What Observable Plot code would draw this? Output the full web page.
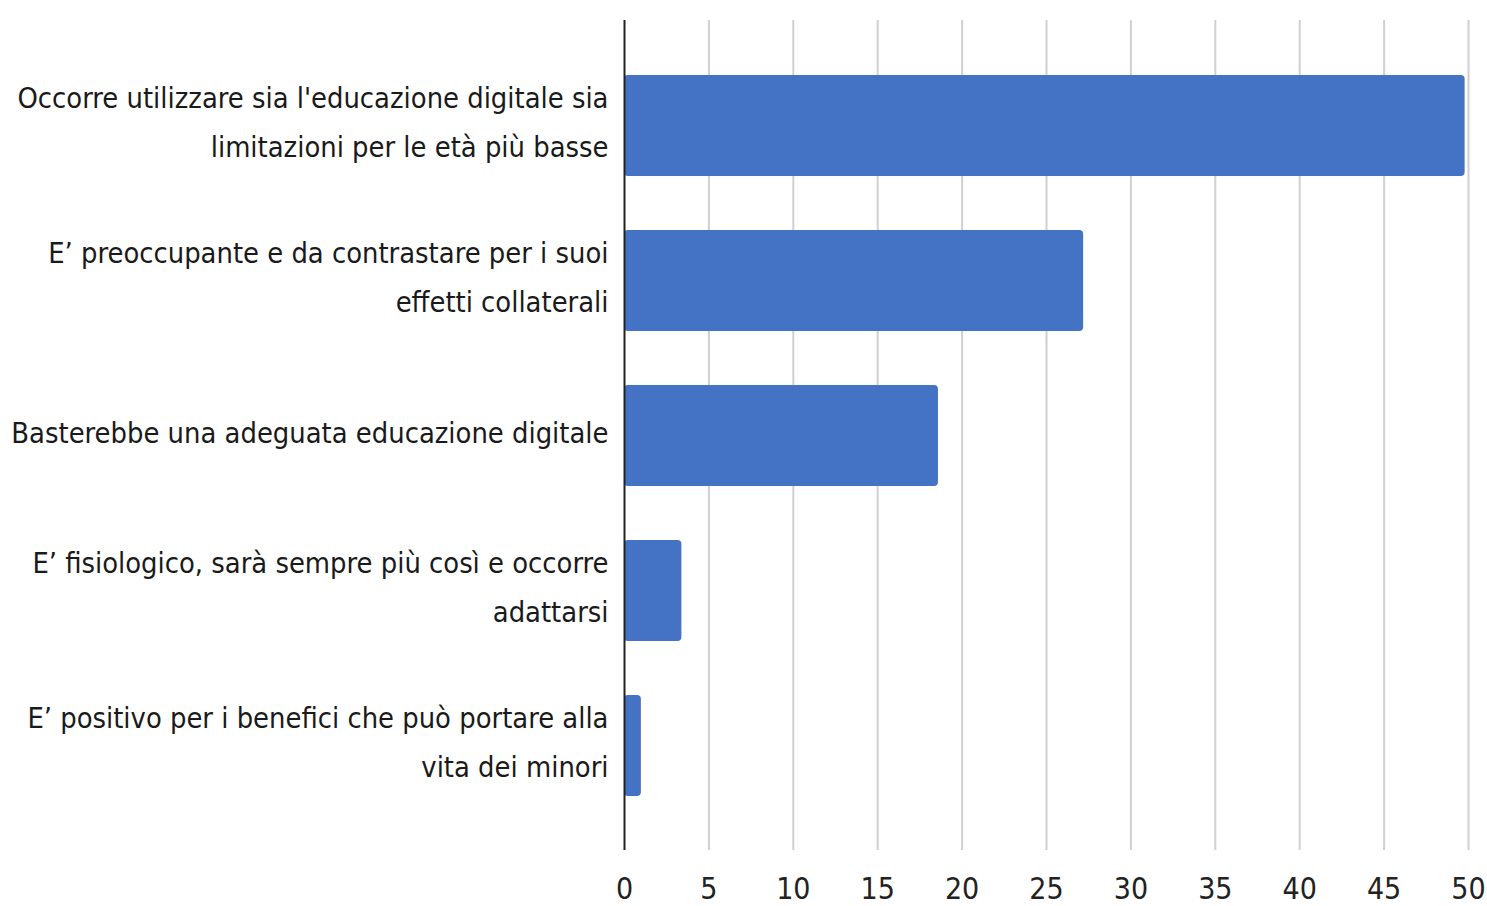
<!DOCTYPE html>
<html>
<head>
<meta charset="utf-8">
<script src="https://cdn.jsdelivr.net/npm/d3@7"></script>
<script src="https://cdn.jsdelivr.net/npm/@observablehq/plot@0.6"></script>
<style>
  html, body { margin: 0; padding: 0; background: #fff; }
  #chart svg { display: block; }
</style>
</head>
<body>
<div id="chart"></div>
<script>
const categories = [
  "Occorre utilizzare sia l'educazione digitale sia\nlimitazioni per le età più basse",
  "E\u2019 preoccupante e da contrastare per i suoi\neffetti collaterali",
  "Basterebbe una adeguata educazione digitale",
  "E\u2019 fisiologico, sarà sempre più così e occorre\nadattarsi",
  "E\u2019 positivo per i benefici che può portare alla\nvita dei minori"
];
const values = [49.8, 27.2, 18.6, 3.4, 1.0];
const xTicks = [0, 5, 10, 15, 20, 25, 30, 35, 40, 45, 50];

const data = categories.map((c, i) => ({category: c, value: values[i]}));
const font = "'Liberation Sans Narrow', 'DejaVu Sans Condensed', sans-serif";

const chart = Plot.plot({
  width: 1487,
  height: 906,
  marginLeft: 624,
  marginRight: 19,
  marginTop: 20,
  marginBottom: 56,
  style: {fontFamily: font, background: "#fff", color: "#222"},
  x: {domain: [0, 50], ticks: xTicks, label: null},
  y: {domain: categories, padding: 0.35, axis: null},
  marks: [
    Plot.gridX(xTicks.filter(d => d > 0), {stroke: "#d0d0d0", strokeOpacity: 1, strokeWidth: 2}),
    Plot.axisX(xTicks, {tickSize: 0, tickPadding: 27, fontSize: 30, fill: "#222", label: null, tickFormat: d => String(d)}),
    Plot.barX(data, {x: "value", y: "category", fill: "#4472c4", rx: 4}),
    Plot.ruleX([0], {stroke: "#222", strokeWidth: 2}),
    Plot.text(data, {x: 0, y: "category", text: "category", textAnchor: "end", dx: -16, dy: -9, fontSize: 28.8, lineHeight: 1.7, fill: "#1a1a1a"})
  ]
});
document.getElementById("chart").appendChild(chart);
</script>
</body>
</html>
